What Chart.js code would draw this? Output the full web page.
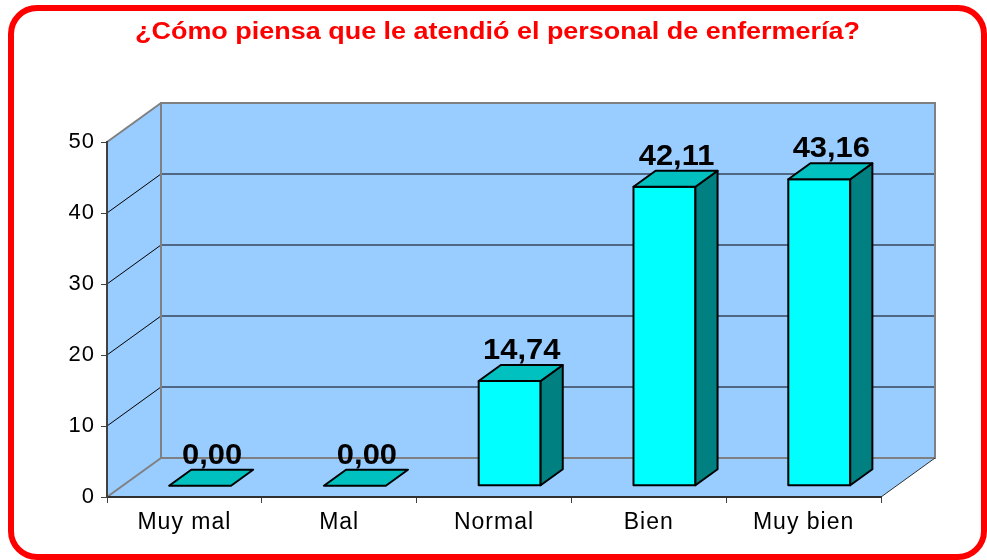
<!DOCTYPE html>
<html>
<head>
<meta charset="utf-8">
<script src="https://cdn.jsdelivr.net/npm/chart.js@4.4.1/dist/chart.umd.min.js"></script>
<style>
    html, body { margin: 0; padding: 0; background: #ffffff; }
    #chart { display: block; }
</style>
</head>
<body>
<canvas id="chart" width="987" height="560"></canvas>
<script>
const TITLE = "¿Cómo piensa que le atendió el personal de enfermería?";
const CATEGORIES = ["Muy mal", "Mal", "Normal", "Bien", "Muy bien"];
const VALUES = [0.00, 0.00, 14.74, 42.11, 43.16];
const Y_MIN = 0;
const Y_MAX = 50;
const Y_STEP = 10;

// depth of the 3d box, in pixels
const DEPTH_X = 54;
const DEPTH_Y = -39;
// bars sit between these fractions of the depth
const BAR_D0 = 0.29;
const BAR_D1 = 0.70;

const FONT = '"Liberation Sans", Arial, Helvetica, sans-serif';

function fmt(v) {
    return v.toFixed(2).replace('.', ',');
}

function poly(ctx, pts, fill, stroke, lw) {
    ctx.beginPath();
    ctx.moveTo(pts[0][0], pts[0][1]);
    for (let i = 1; i < pts.length; i++) ctx.lineTo(pts[i][0], pts[i][1]);
    ctx.closePath();
    if (fill) { ctx.fillStyle = fill; ctx.fill(); }
    if (stroke) { ctx.strokeStyle = stroke; ctx.lineWidth = lw; ctx.stroke(); }
}

function line(ctx, x1, y1, x2, y2, color, lw) {
    ctx.beginPath();
    ctx.moveTo(x1, y1);
    ctx.lineTo(x2, y2);
    ctx.strokeStyle = color;
    ctx.lineWidth = lw;
    ctx.stroke();
}

// text squeezed or stretched sideways to match the old chart
function wideText(ctx, text, cx, y, sx) {
    ctx.save();
    ctx.translate(cx, y);
    ctx.scale(sx, 1);
    ctx.textAlign = 'center';
    ctx.textBaseline = 'alphabetic';
    ctx.fillText(text, 0, 0);
    ctx.restore();
}

// Frame, title and the 3d walls, drawn before the axes
const wallsPlugin = {
    id: 'walls',
    beforeDraw(chart) {
        const ctx = chart.ctx;
        const area = chart.chartArea;
        const yScale = chart.scales.y;
        const L = area.left, R = area.right, T = area.top, B = area.bottom;

        ctx.save();
        // red rounded frame
        ctx.beginPath();
        ctx.roundRect(11, 8, 973, 549, 26);
        ctx.strokeStyle = '#ff0000';
        ctx.lineWidth = 6;
        ctx.stroke();

        // title
        ctx.font = 'bold 24px ' + FONT;
        ctx.fillStyle = '#ff0000';
        const w = ctx.measureText(TITLE).width;
        wideText(ctx, TITLE, 497.5, 38.5, 725 / w);

        const wall = '#99ccff';
        const edge = '#808080';
        // left wall
        poly(ctx, [[L, T], [L + DEPTH_X, T + DEPTH_Y], [L + DEPTH_X, B + DEPTH_Y], [L, B]], wall);
        // back wall
        poly(ctx, [[L + DEPTH_X, T + DEPTH_Y], [R + DEPTH_X, T + DEPTH_Y], [R + DEPTH_X, B + DEPTH_Y], [L + DEPTH_X, B + DEPTH_Y]], wall);
        // floor
        poly(ctx, [[L, B], [L + DEPTH_X, B + DEPTH_Y], [R + DEPTH_X, B + DEPTH_Y], [R, B]], wall);

        // grid lines
        for (let v = Y_MIN + Y_STEP; v < Y_MAX; v += Y_STEP) {
            const y = yScale.getPixelForValue(v);
            line(ctx, L, y, L + DEPTH_X, y + DEPTH_Y, '#000000', 1);
            line(ctx, L + DEPTH_X, y + DEPTH_Y, R + DEPTH_X, y + DEPTH_Y, '#4f6785', 2);
        }

        // wall edges
        line(ctx, L, T, L + DEPTH_X, T + DEPTH_Y, edge, 2);
        poly(ctx, [[L + DEPTH_X, T + DEPTH_Y], [R + DEPTH_X, T + DEPTH_Y], [R + DEPTH_X, B + DEPTH_Y], [L + DEPTH_X, B + DEPTH_Y]], null, edge, 2);
        line(ctx, L, B, L + DEPTH_X, B + DEPTH_Y, edge, 2);
        line(ctx, R, B, R + DEPTH_X, B + DEPTH_Y, '#303030', 1);
        ctx.restore();

        // axis labels spacing
        ctx.letterSpacing = '1px';
    }
};

// 3d bars and their value labels
const barsPlugin = {
    id: 'bars3d',
    afterDatasetsDraw(chart) {
        const ctx = chart.ctx;
        const meta = chart.getDatasetMeta(0);
        const values = chart.data.datasets[0].data;
        ctx.save();
        ctx.lineJoin = 'round';
        ctx.letterSpacing = '0px';
        const ox = DEPTH_X * BAR_D0, oy = DEPTH_Y * BAR_D0;
        const dx = DEPTH_X * (BAR_D1 - BAR_D0), dy = DEPTH_Y * (BAR_D1 - BAR_D0);
        meta.data.forEach((bar, i) => {
            const p = bar.getProps(['x', 'y', 'base', 'width'], true);
            const l = p.x - p.width / 2 + ox;
            const r = p.x + p.width / 2 + ox;
            const t = p.y + oy;
            const b = p.base + oy;
            if (b - t > 0.5) {
                poly(ctx, [[l, t], [r, t], [r, b], [l, b]], '#00ffff', '#000000', 2);
                poly(ctx, [[r, t], [r + dx, t + dy], [r + dx, b + dy], [r, b]], '#008080', '#000000', 2);
            }
            poly(ctx, [[l, t], [r, t], [r + dx, t + dy], [l + dx, t + dy]], '#00c0c0', '#000000', 2);

            // value label
            ctx.font = 'bold 30px ' + FONT;
            ctx.fillStyle = '#000000';
            wideText(ctx, fmt(values[i]), (l + r) / 2 + dx / 2 + 1, t + dy - 6, 1.03);
        });
        ctx.restore();
    }
};

const config = {
    type: 'bar',
    data: {
        labels: CATEGORIES,
        datasets: [{
            data: VALUES,
            backgroundColor: 'rgba(0,0,0,0)',
            borderWidth: 0,
            barPercentage: 0.4,
            categoryPercentage: 1.0
        }]
    },
    options: {
        responsive: false,
        animation: false,
        events: [],
        layout: {
            padding: { top: 142, left: 0, right: 106, bottom: 0 }
        },
        plugins: {
            legend: { display: false },
            title: { display: false },
            tooltip: { enabled: false }
        },
        scales: {
            x: {
                afterFit: (s) => { s.height = 63; },
                grid: {
                    offset: true,
                    drawOnChartArea: false,
                    drawTicks: true,
                    tickLength: 6,
                    color: '#404040',
                    lineWidth: 1
                },
                border: { display: true, color: '#303030', width: 2 },
                ticks: {
                    color: '#000000',
                    padding: 6,
                    autoSkip: false,
                    maxRotation: 0,
                    font: { family: FONT, size: 23 }
                }
            },
            y: {
                min: Y_MIN,
                max: Y_MAX,
                afterFit: (s) => { s.width = 107; },
                grid: {
                    drawOnChartArea: false,
                    drawTicks: true,
                    tickLength: 6,
                    color: '#404040',
                    lineWidth: 1
                },
                border: { display: true, color: '#404040', width: 2 },
                ticks: {
                    stepSize: Y_STEP,
                    color: '#000000',
                    padding: 6,
                    font: { family: FONT, size: 22 },
                    callback: (v) => v
                }
            }
        }
    },
    plugins: [wallsPlugin, barsPlugin]
};

new Chart(document.getElementById('chart'), config);
</script>
</body>
</html>
